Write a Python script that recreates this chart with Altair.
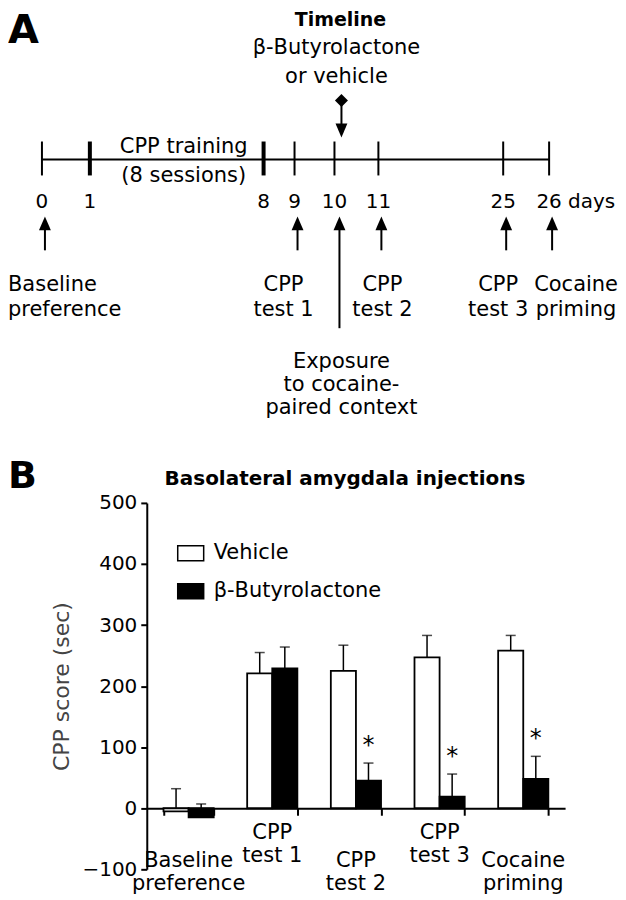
import altair as alt
import pandas as pd

FONT = "DejaVu Sans"

# ---------------- Panel A: timeline (schematic) ----------------
days = [0, 1, 8, 9, 10, 11, 25, 26]
day_labels = ["0", "1", "8", "9", "10", "11", "25", "26"]
thick_days = [1, 8]
arrow_days = [0, 9, 11, 25, 26]
context_day = [10]
event_days = [0, 9, 11, 25, 26]
event_text = ["Baseline\npreference", "CPP\ntest 1", "CPP\ntest 2", "CPP\ntest 3", "Cocaine\npriming"]

# ---------------- Panel B: bar chart ----------------
categories = ["Baseline preference", "CPP test 1", "CPP test 2", "CPP test 3", "Cocaine priming"]
category_text = ["Baseline\npreference", "CPP\ntest 1", "CPP\ntest 2", "CPP\ntest 3", "Cocaine\npriming"]
upper_labels = ["CPP test 1", "CPP test 3"]
groups = ["Vehicle", "β-Butyrolactone"]
vehicle_mean = [-5, 221, 225, 247, 258]
vehicle_sem = [37, 34, 42, 36, 25]
bl_mean = [-15, 229, 45, 19, 48]
bl_sem = [22, 35, 29, 37, 37]
bl_sig = [False, False, True, True, True]

# ---------------- layout constants ----------------
LEFT = 139  # both panels share the plot origin of panel B (left of it: y axis, "A"/"B")
# schematic (non-proportional) pixel positions of the day ticks on the timeline
DAY_PX = [p - LEFT for p in [34, 82, 256, 287, 327, 371, 496, 542]]
EVENT_DX = [-34, -11, 4, -5, 27]
W_A, H_A = 610 - LEFT, 430
W_B, H_B = 419, 367
UP = "M0,-1L-0.85,1L0.85,1Z"
DOWN = "M0,1L-0.85,-1L0.85,-1Z"
BOX = "M-1,-0.577H1V0.577H-1Z"

xs = alt.Scale(domain=days, range=DAY_PX, nice=False, zero=False)


def xday(field="day"):
    return alt.X(f"{field}:Q", scale=xs, axis=None)


def note(day, text, y, dx=0, size=21, align="center", weight="normal",
         baseline="alphabetic", lh=None):
    mk = dict(fontSize=size, align=align, fontWeight=weight, baseline=baseline,
              dx=dx, lineBreak="\n", color="black")
    if lh:
        mk["lineHeight"] = lh
    return alt.Chart(pd.DataFrame({"day": [day], "t": [text]})).mark_text(**mk).encode(
        x=xday(), y=alt.value(y), text="t:N")


df_days = pd.DataFrame({"day": days, "lab": day_labels})
base_days = alt.Chart(df_days)

timeline = alt.Chart(pd.DataFrame({"start": [days[0]], "end": [days[-1]]})).mark_rule(
    color="black", strokeWidth=2).encode(x=xday("start"), x2="end:Q", y=alt.value(151))

ticks = base_days.mark_rule(color="black").encode(
    x=xday(), y=alt.value(133), y2=alt.value(167),
    strokeWidth=alt.condition(alt.FieldOneOfPredicate(field="day", oneOf=thick_days),
                              alt.value(4), alt.value(2)))

tick_labels = base_days.mark_text(fontSize=20, baseline="alphabetic", color="black").encode(
    x=xday(), y=alt.value(200), text="lab:N")

days_word = note(days[-1], "days", 200, dx=19, size=20, align="left")

df_arrows = pd.DataFrame({"day": arrow_days})
shafts = alt.Chart(df_arrows).mark_rule(color="black", strokeWidth=2, xOffset=3).encode(
    x=xday(), y=alt.value(215), y2=alt.value(242))
heads = alt.Chart(df_arrows).mark_point(shape=UP, size=196, filled=True, color="black",
                                        opacity=1, xOffset=3).encode(x=xday(), y=alt.value(215))

df_ctx = pd.DataFrame({"day": context_day})
ctx_shaft = alt.Chart(df_ctx).mark_rule(color="black", strokeWidth=2, xOffset=5).encode(
    x=xday(), y=alt.value(215), y2=alt.value(320))
ctx_head = alt.Chart(df_ctx).mark_point(shape=UP, size=196, filled=True, color="black",
                                        opacity=1, xOffset=5).encode(x=xday(), y=alt.value(215))
diamond = alt.Chart(df_ctx).mark_point(shape="diamond", size=169, filled=True, color="black",
                                       opacity=1, xOffset=7).encode(x=xday(), y=alt.value(92))
drug_shaft = alt.Chart(df_ctx).mark_rule(color="black", strokeWidth=2, xOffset=7).encode(
    x=xday(), y=alt.value(92), y2=alt.value(122))
drug_head = alt.Chart(df_ctx).mark_point(shape=DOWN, size=196, filled=True, color="black",
                                         opacity=1, xOffset=7).encode(x=xday(), y=alt.value(122))

texts_a = [
    note(0, "A", 2, dx=-34, size=40, align="left", weight="bold", baseline="top"),
    note(10, "Timeline", 2, dx=6, size=19, weight="bold", baseline="top"),
    note(10, "β-Butyrolactone\nor vehicle", 45, dx=2, lh=29),
    note(1, "CPP training\n(8 sessions)", 145, dx=94, lh=29),
    note(10, "Exposure\nto cocaine-\npaired context", 360, dx=7, lh=23),
]
for i, (d, t) in enumerate(zip(event_days, event_text)):
    texts_a.append(note(d, t, 283, dx=EVENT_DX[i], lh=25, align="left" if i == 0 else "center"))

panel_a = alt.layer(timeline, ticks, tick_labels, days_word, shafts, heads, ctx_shaft,
                    ctx_head, diamond, drug_shaft, drug_head, *texts_a).properties(
    width=W_A, height=H_A)

# ---------------- Panel B ----------------
rows = []
for i, c in enumerate(categories):
    rows.append({"cat": c, "group": groups[0], "mean": vehicle_mean[i], "sem": vehicle_sem[i], "sig": False})
    rows.append({"cat": c, "group": groups[1], "mean": bl_mean[i], "sem": bl_sem[i], "sig": bl_sig[i]})
df_b = pd.DataFrame(rows)

xscale = alt.Scale(paddingInner=0.4, paddingOuter=0.2)
xaxis = alt.Axis(title=None, labels=False, domainColor="black", domainWidth=2,
                 tickColor="black", tickWidth=2, tickSize=7, tickBand="extent",
                 offset=-H_B * 100 / 600, grid=False)
yscale = alt.Scale(domain=[-100, 500], nice=False, zero=False)
yaxis = alt.Axis(title="CPP score (sec)", values=[-100, 0, 100, 200, 300, 400, 500],
                 titleFontSize=22, titleFontWeight="normal", titleColor="#444",
                 titlePadding=8, labelFontSize=20, labelColor="black", labelPadding=4,
                 tickSize=6, tickWidth=2, tickColor="black", domainColor="black",
                 domainWidth=2, grid=False)


def xb():
    return alt.X("cat:N", sort=categories, scale=xscale, axis=xaxis)


def xo():
    return alt.XOffset("group:N", sort=groups, scale=alt.Scale(paddingInner=0, paddingOuter=0))


base_b = alt.Chart(df_b).transform_calculate(top="datum.mean + datum.sem")

whiskers = base_b.mark_rule(color="black", strokeWidth=1.5).encode(
    x=xb(), xOffset=xo(), y=alt.Y("mean:Q", scale=yscale, axis=yaxis), y2="top:Q")
caps = base_b.mark_tick(color="black", size=10, thickness=1.5).encode(
    x=xb(), xOffset=xo(), y=alt.Y("top:Q", scale=yscale, axis=yaxis))
bars = base_b.mark_bar(stroke="black", strokeWidth=1.8).encode(
    x=xb(), xOffset=xo(), y=alt.Y("mean:Q", scale=yscale, axis=yaxis),
    fill=alt.Fill("group:N", sort=groups,
                  scale=alt.Scale(domain=groups, range=["white", "black"]),
                  legend=alt.Legend(title=None, orient="none", legendX=30, legendY=36.5,
                                    symbolType=BOX, symbolSize=676, symbolStrokeColor="black",
                                    symbolStrokeWidth=1.5, labelFontSize=21, labelColor="black",
                                    labelOffset=9, rowPadding=13, padding=0, labelLimit=400)))
stars = base_b.transform_filter("datum.sig").mark_text(
    text="*", fontSize=24, dy=-10, baseline="alphabetic", color="black").encode(
    x=xb(), xOffset=xo(), y=alt.Y("top:Q", scale=yscale, axis=yaxis))

df_lab = pd.DataFrame({"cat": categories, "t": category_text})
lab_up = alt.Chart(df_lab).transform_filter(
    alt.FieldOneOfPredicate(field="cat", oneOf=upper_labels)).mark_text(
    fontSize=21, lineBreak="\n", lineHeight=23, baseline="alphabetic", color="black").encode(
    x=xb(), y=alt.value(337), text="t:N")
lab_low = alt.Chart(df_lab).transform_filter(
    {"not": alt.FieldOneOfPredicate(field="cat", oneOf=upper_labels).to_dict()}).mark_text(
    fontSize=21, lineBreak="\n", lineHeight=23, baseline="alphabetic", color="black").encode(
    x=xb(), y=alt.value(365), text="t:N")

letter_b = alt.Chart(pd.DataFrame({"t": ["B"]})).mark_text(
    fontSize=38, fontWeight="bold", align="left", baseline="top", color="black").encode(
    x=alt.value(-LEFT), y=alt.value(-45), text="t:N")
title_b = alt.Chart(pd.DataFrame({"t": ["Basolateral amygdala injections"]})).mark_text(
    fontSize=20, fontWeight="bold", align="center", baseline="alphabetic", color="black").encode(
    x=alt.value(198.5), y=alt.value(-18), text="t:N")

panel_b = alt.layer(whiskers, caps, bars, stars, lab_up, lab_low, letter_b, title_b).properties(
    width=W_B, height=H_B)

chart = alt.vconcat(panel_a, panel_b, spacing=20).resolve_scale(
    fill="independent").resolve_legend(fill="independent").properties(padding=0).configure(
    font=FONT).configure_view(stroke=None)

chart.save("out.html", embed_options={"renderer": "svg", "actions": False})
